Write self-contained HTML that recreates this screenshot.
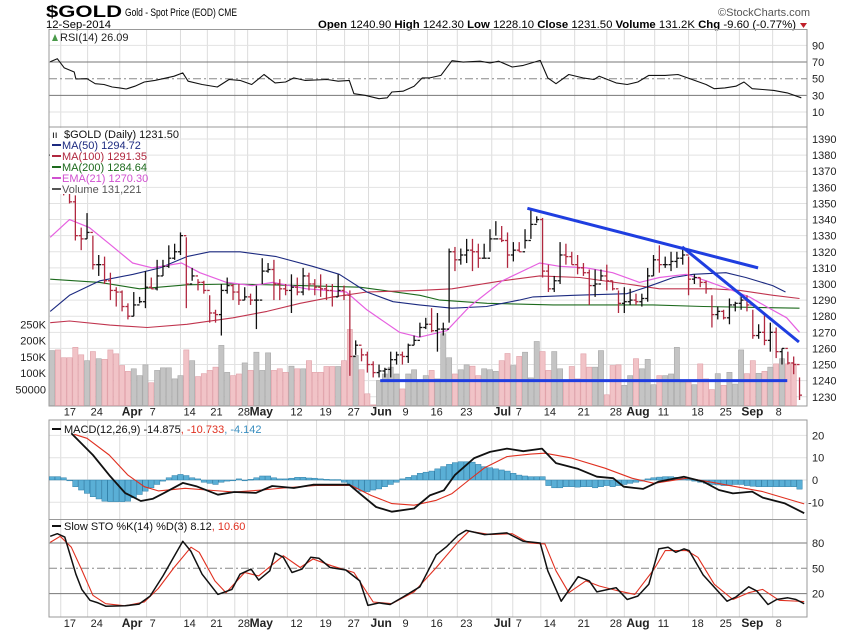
<!DOCTYPE html>
<html><head><meta charset="utf-8">
<style>
html,body{margin:0;padding:0;background:#fff;}
svg{display:block;font-family:"Liberation Sans",sans-serif;}
</style></head>
<body>
<svg id="chart" width="850" height="633" viewBox="0 0 850 633" xmlns="http://www.w3.org/2000/svg">
<g id="hdr">
<text x="46" y="17" font-size="17" font-weight="bold" textLength="76" lengthAdjust="spacingAndGlyphs">$GOLD</text>
<text x="125" y="16" font-size="11" textLength="112" lengthAdjust="spacingAndGlyphs">Gold - Spot Price (EOD) CME</text>
<text x="46" y="28" font-size="11" textLength="65" lengthAdjust="spacingAndGlyphs">12-Sep-2014</text>
<text x="810" y="16" font-size="11" fill="#555" text-anchor="end" textLength="92" lengthAdjust="spacingAndGlyphs">©StockCharts.com</text>
<text x="318" y="28" font-size="11" textLength="478" lengthAdjust="spacingAndGlyphs"><tspan font-weight="bold">Open</tspan> 1240.90 <tspan font-weight="bold">High</tspan> 1242.30 <tspan font-weight="bold">Low</tspan> 1228.10 <tspan font-weight="bold">Close</tspan> 1231.50 <tspan font-weight="bold">Volume</tspan> 131.2K <tspan font-weight="bold">Chg</tspan> -9.60 (-0.77%)</text>
<path d="M800 23 L807 23 L803.5 28 Z" fill="#c0202a"/>
</g>
<g id="grid"></g>
<g id="marks"></g>
<g id="overlay"></g>
</svg>
<script>
// ---------- data ----------
const highs=[1392,1385,1378,1356,1355,1335,1344,1330,1318,1317,1307,1298,1296,1288,1295,1292,1308,1304,1315,1315,1324,1325,1332,1329,1310,1303,1302,1293,1284,1300,1304,1300,1300,1298,1294,1299,1316,1313,1315,1303,1300,1306,1304,1310,1307,1303,1306,1300,1300,1306,1299,1296,1265,1260,1258,1252,1250,1248,1258,1258,1258,1263,1268,1276,1279,1285,1282,1276,1322,1323,1322,1328,1328,1325,1325,1334,1339,1336,1332,1326,1326,1334,1346,1342,1341,1312,1305,1326,1325,1320,1318,1313,1309,1309,1309,1312,1302,1296,1298,1297,1294,1294,1310,1318,1324,1317,1320,1320,1322,1317,1306,1304,1302,1293,1286,1284,1291,1289,1294,1293,1284,1275,1281,1276,1273,1260,1258,1255,1242];
const lows=[1376,1370,1355,1350,1327,1321,1328,1309,1305,1300,1290,1286,1283,1278,1280,1288,1285,1297,1296,1305,1310,1315,1318,1285,1302,1296,1294,1276,1276,1268,1294,1290,1287,1290,1287,1272,1300,1307,1290,1290,1293,1282,1293,1293,1296,1293,1292,1290,1286,1292,1290,1243,1256,1252,1245,1242,1242,1242,1242,1250,1250,1251,1262,1267,1272,1270,1258,1268,1276,1308,1312,1313,1308,1310,1316,1320,1330,1326,1310,1314,1320,1322,1328,1338,1304,1295,1295,1300,1312,1312,1306,1305,1287,1292,1302,1296,1296,1282,1282,1287,1287,1286,1289,1305,1307,1310,1308,1310,1312,1293,1300,1298,1294,1273,1278,1278,1275,1283,1284,1283,1266,1266,1262,1258,1254,1250,1250,1244,1228];
const closes=[1380,1372,1358,1351,1330,1328,1332,1312,1312,1302,1296,1295,1286,1280,1287,1289,1298,1297,1305,1311,1316,1320,1330,1300,1305,1301,1296,1282,1281,1296,1299,1295,1290,1292,1290,1290,1308,1309,1300,1297,1296,1298,1295,1305,1300,1298,1297,1296,1292,1296,1293,1255,1262,1256,1250,1245,1246,1247,1253,1256,1255,1262,1265,1273,1275,1271,1272,1272,1320,1315,1318,1321,1320,1316,1316,1328,1328,1327,1318,1321,1320,1327,1337,1340,1308,1297,1302,1318,1317,1312,1310,1307,1299,1300,1305,1302,1297,1288,1289,1290,1289,1291,1305,1315,1312,1312,1314,1316,1318,1303,1304,1301,1297,1281,1283,1279,1287,1288,1290,1287,1268,1270,1265,1270,1258,1260,1251,1250,1231];
const volumes=[169,171,147,147,179,156,138,166,144,142,171,159,123,105,113,92,125,70,108,116,116,82,92,171,138,89,98,108,118,185,102,92,97,131,108,164,108,162,108,113,102,121,113,113,138,102,102,120,120,120,138,234,154,110,36,2,77,97,118,97,51,97,110,79,92,108,82,221,147,97,110,125,121,92,113,110,105,138,160,123,151,164,85,197,166,108,166,113,77,120,82,159,118,118,169,33,123,125,62,92,144,113,142,64,92,92,97,179,72,72,64,128,82,49,98,62,102,66,171,98,138,99,105,118,128,144,128,128];
const tickLabels=["17","24","Apr","7","14","21","28","May","12","19","27","Jun","9","16","23","Jul","7","14","21","28","Aug","11","18","25","Sep","8"];
const tickBars=[1.5,6.1,11.6,16.2,22,26.6,31.3,33.5,40.3,45.3,50.1,54.2,59.5,64.3,69.4,75.3,78.9,83.7,89.5,95,98,103.2,109,113.8,117.7,123.4];
const priceTicks=[1390,1380,1370,1360,1350,1340,1330,1320,1310,1300,1290,1280,1270,1260,1250,1240,1230];
const volTicks=[250,200,150,100,50];
const volTickLabels=["250K","200K","150K","100K","50000"];
// moving averages (bar index, value)
const emaIdx=[-0.3,3,6.4,9.8,13.8,17.2,22.2,25.3,29.9,34.3,37.8,43.6,50.4,53.9,59.5,62.9,67.6,71.5,77.1,83.5,86.9,91.5,96,100.6,104,108.6,112,116.5,119.4,122.3,125.8,128];
const emaVal=[1329,1340,1335,1325,1313,1310,1313,1307,1301,1299,1301,1297,1295,1284,1270,1267,1271,1286,1302,1313,1311,1310,1307,1301,1304,1306,1302,1296,1292,1286,1279,1270];
const ma50Idx=[-0.3,3,8.2,13.9,18.5,23.1,27,32.2,38.4,44.6,49.2,53.9,58.4,62.9,68.5,74.4,80,82.4,89.3,98.4,101.8,106.4,109.8,115.4,118.8,123.4,125.6];
const ma50Val=[1283,1293,1302,1306,1310,1317,1320,1320,1317,1311,1306,1295,1289,1287,1285,1286,1290,1292,1293,1294,1298,1304,1306,1307,1304,1299,1295];
const ma100Idx=[-0.3,3,9.9,16.3,23.1,31,36.8,42.5,48.1,53.9,62.9,68.5,77.1,83.5,90.4,98.4,104,113.2,117.8,123.5,128];
const ma100Val=[1276,1277,1274.5,1273,1275,1279,1283,1288,1292,1295,1296,1297,1302,1305,1304,1300,1297,1297,1296,1293,1291];
const ma200Idx=[-0.3,8.2,15,23.1,31,42.5,52.7,63,66.4,74.5,85.8,102.9,111.5,128];
const ma200Val=[1303,1301,1297,1299.5,1300,1299,1298,1293,1290,1288,1287,1287,1286,1285];
// trendlines [startBar,startPrice,endBar,endPrice]
const trendStart=[[81.4,1347],[107.9,1323],[56.2,1240]];
const trendEnd=[[120.9,1310],[127.9,1264],[125.9,1240]];
// RSI
const rsiIdx=[-0.3,0.9,2.1,3.8,4.1,6,7.4,8.9,10.3,11.6,12.7,14.2,15.8,17.6,19,20.9,22.4,23.3,25.7,28.3,30.3,32.2,34.2,36.3,38.2,40,41.4,43.3,47.1,49,50.9,51.7,53.6,56,57.4,58.2,60.1,62,63.4,64.7,66.6,68.5,70.4,73.3,75,76.5,78.8,80.7,83.6,84.9,86.3,88.5,90.9,92.8,93.7,96.6,98.5,100.3,102.2,105,107.2,109.6,112,113.4,115.2,117.1,118.5,119.9,121.7,123.6,125.9,128.3];
const rsiVal=[70.4,74,63,58,49.6,50,44,43,40,39,37.6,41,46,48,50,53,57,47,43,40,49,48,43,55,45,46,51,48,49,47,48,32,30,26,27,34,35,41,51,51,54,71.6,70,71,69,71,64,66,72,51,44,55,51,49,53,45,43,46,54,54,55,49,43,38,39,41,46,38,37,36,33,27];
const rsiTicks=[90,70,50,30,10];
// MACD
const macdIdx=[3.3,7,9.8,12.5,15.2,17.3,19,22.4,24.7,28.4,31.2,34.9,37.7,41.4,44.7,50.9,52.7,55.5,58.2,62,64.7,67.1,69,72.3,75,77.9,80.7,83.9,86.3,90.1,93.3,96.1,97.9,101.2,103.9,108.2,111.5,114.2,116.6,119.9,121.7,125.5,128.8];
const macdVal=[21,11.2,2.2,-5.8,-9.4,-8.4,-6.1,-1.3,-2.8,-6.6,-5.4,-5.8,-2.7,-3.6,-2.1,-2.1,-6.1,-12.1,-14.2,-12.8,-6.9,-4.6,2.3,9.8,12.6,14.1,12.9,14.1,7.6,5,1.5,0.8,-3,-4,-0.7,1.5,-0.7,-4.5,-6,-5.2,-7.9,-10.5,-14.9];
const sigIdx=[3.8,6,9.8,13,15.8,18.2,22.8,26.5,31.2,36,39.6,45.2,51.2,54.6,58.2,62,65.8,68.5,71.4,74.1,77.9,82,84.4,89,94.7,99.3,103.1,108.7,112.3,117.1,121.7,128.8];
const sigVal=[20.5,18.7,11.2,2.2,-3,-4.9,-3.7,-4.5,-5.4,-4.5,-3.6,-2.4,-2.4,-6.9,-10.6,-11.3,-9.1,-6.1,0,5.5,10.5,11.6,12,9.8,5.3,0.8,-1.5,0.8,-0.7,-3,-5.2,-10.7];
const histVal=[1.5,1.5,1,0,-3,-4.5,-6,-7.5,-8.5,-9.5,-9.7,-9.7,-9.7,-9.5,-8,-6.5,-5,-3.5,-2,-0.5,1,2,2.5,2,1,0.5,-1,-1.5,-2,-1,-0.5,0,0.5,-0.3,0.3,1,1.8,1.8,1,0.5,0.5,0.8,1.2,1.2,0.9,0.8,0.5,0.3,0.2,0.2,-1,-2.5,-4,-5,-5.2,-4.5,-4,-3,-2,-1,0.5,1.2,2,3,3.5,4,5,6,7,7.8,8.2,8.2,8,7,6,5.5,5,4.5,4,3,2.2,1.8,1.5,1.5,1.5,-2.5,-3.5,-3.5,-3,-3,-3.2,-3,-3,-3.5,-3,-2.5,-3,-2.5,-2,-1.5,-1,-0.5,0.5,1,1.3,1.5,1.5,1.2,0.8,0.3,-0.5,-1,-1.5,-2,-2.2,-2.5,-2.5,-2,-2,-2.5,-2.8,-3,-3,-3,-3,-3,-3,-3,-4.1];
const macdTicks=[20,10,0,-10];
// Slow stochastics
const kIdx=[-0.3,0.9,2.2,4.1,5.1,6.5,7.9,9.2,12.5,14.9,16.8,19,22.4,23.8,25.7,28.4,30.8,32.2,34.1,35.4,37.3,38.2,39.6,41.1,42.8,44.3,45.7,47.6,50.3,52.7,54.1,56,57.9,60.1,63,65.8,67.6,69.5,70.9,74.1,77.9,80.7,83.6,84.9,87.2,90.1,92,93.3,96.6,98.5,100.3,102.2,103.9,105.5,106.8,108.2,109.1,111.5,115.6,117.1,119.3,120.7,122.6,124.1,126,127.4,128.8];
const kVal=[88,91,87,43,25,12,9,5,5.5,7.5,17,41,82,70,43,19,25,43,49,36,47,68,63,45,49,63,62,51,48,35,6,9,7,16,28,66,76,89,95,90,92,82,80,47,11,40,35,22,27,13,17,31,73,75,69,73,71,42,11,16,28,23,7,13,15,13,8];
const dIdx=[-0.3,1.4,3.3,5.1,7,9.2,12.5,15.8,18.2,20.9,23.8,25.2,27.9,29.8,33,35.4,38.2,39.6,42.5,44.7,47.9,51.7,55,58.2,62,65.8,69.5,71.4,75,78.8,81.7,84.4,86.3,88.5,91.4,93.7,97.1,99.8,103.1,105,108.7,110.6,113.4,116.6,119.3,121.7,124.5,128.8];
const dVal=[80.7,88,75,48,18,8,5.5,10,26,51,75,69,35,21,45,41,57,65,51,61,53,45,10,8,22,51,81,94,90,91,80,79,47,21,35,29,23,19,49,71,71,63,31,13,21,25,12,10.6];
const stoTicks=[80,50,20];

// ---------- layout ----------
const L=49,R=807;
const X0=52,DX=5.84;
const bx=i=>X0+DX*i;
const py=p=>139+(1390-p)*1.611;
const vy=v=>405.5-v*0.325;
const ry=v=>78.7-(v-50)*0.8325;
const my=v=>480-v*2.23;
const sy=v=>568.3-(v-50)*0.843;
const NS="http://www.w3.org/2000/svg";
const G=document.getElementById('grid'),M=document.getElementById('marks'),O=document.getElementById('overlay');
function mk(tag,attrs,parent){const e=document.createElementNS(NS,tag);for(const k in attrs)e.setAttribute(k,attrs[k]);parent.appendChild(e);return e;}
function txt(s,x,y,attrs,parent){const e=mk('text',Object.assign({x:x,y:y,'font-size':11},attrs),parent);e.textContent=s;return e;}

const panels=[[29.5,127],[127,406],[420,519.5],[519.5,617]];
tickBars.forEach((b,k)=>{
  const x=bx(b);
  panels.forEach(p=>{
    const ln=mk('line',{x1:x,x2:x,y1:p[0],y2:p[1],stroke:'#dcdcdc','stroke-width':1},G);
    
    
  });
  const bold=/[A-Za-z]/.test(tickLabels[k]);
  [415.5,627].forEach(yy=>{
    const t=txt(tickLabels[k],x+(bold?2:3),yy,{'font-size':bold?12:11,'font-weight':bold?'bold':'normal',fill:'#222'},G);
    
    
  });
});
priceTicks.forEach(p=>{
  const ln=mk('line',{x1:L,x2:R,y1:py(p),y2:py(p),stroke:'#e2e2e2'},G);
  
  
  const t=txt(String(p),812,py(p)+4,{fill:'#222'},G);
  
  
});
volTicks.forEach((v,k)=>{
  const t=txt(volTickLabels[k],46,vy(v)+4,{'text-anchor':'end',fill:'#222'},G);
  
  
});
rsiTicks.forEach(v=>{
  const main=(v===70||v===30);
  const ln=mk('line',{x1:L,x2:R,y1:ry(v),y2:ry(v),stroke:main?'#777':(v===50?'#888':'#e2e2e2'),'stroke-width':1,'stroke-dasharray':v===50?'8,3,2,3':'none'},G);
  
  
  const t=txt(String(v),812,ry(v)+4,{fill:'#222'},G);
  
  
});
macdTicks.forEach(v=>{
  const ln=mk('line',{x1:L,x2:R,y1:my(v),y2:my(v),stroke:'#e2e2e2'},G);
  
  
  const t=txt(String(v),v<0?808:812,my(v)+4,{fill:'#222'},G);
  
  
});
stoTicks.forEach(v=>{
  const ln=mk('line',{x1:L,x2:R,y1:sy(v),y2:sy(v),stroke:v===50?'#888':'#777','stroke-dasharray':v===50?'8,3,2,3':'none'},G);
  
  
  const t=txt(String(v),812,sy(v)+4,{fill:'#222'},G);
  
  
});
panels.forEach(p=>{
  const r=mk('rect',{x:L,y:p[0],width:R-L,height:p[1]-p[0],fill:'none',stroke:'#999'},G);
  
  
});

volumes.forEach((v,i)=>{
  const up=i===0?true:closes[i]>=closes[i-1];
  const r=mk('rect',{x:bx(i)-2.6,y:vy(v),width:5.2,height:405.5-vy(v),fill:up?'#c4c4c4':'#f1c3c7',stroke:up?'#a8a8a8':'#e0a0a8','stroke-width':0.6},M);
  
  
});
function poly(idx,vals,yf,color,w,name){
  const pts=idx.map((b,k)=>bx(b).toFixed(1)+','+yf(vals[k]).toFixed(1)).join(' ');
  const pl=mk('polyline',{points:pts,fill:'none',stroke:color,'stroke-width':w,'stroke-linejoin':'round'},M);
  
  
}
poly(ma200Idx,ma200Val,py,'#1d6a1d',1.1,'ma200-line');
poly(ma100Idx,ma100Val,py,'#c0344e',1.1,'ma100-line');
poly(ma50Idx,ma50Val,py,'#1c2a80',1.1,'ma50-line');
poly(emaIdx,emaVal,py,'#e660e0',1.2,'ema21-line');
closes.forEach((c,i)=>{
  const o=i===0?c:closes[i-1];
  const col=(i>0&&c<o)?'#b0283f':'#111';
  const x=bx(i);
  const g=mk('g',{stroke:col,'stroke-width':1.3},M);
  
  
  mk('line',{x1:x,x2:x,y1:py(highs[i]),y2:py(lows[i])},g);
  mk('line',{x1:x-2.5,x2:x,y1:py(o),y2:py(o)},g);
  mk('line',{x1:x,x2:x+2.5,y1:py(c),y2:py(c)},g);
});
trendStart.forEach((s,k)=>{
  const e=trendEnd[k];
  const ln=mk('line',{x1:bx(s[0]),y1:py(s[1]),x2:bx(e[0]),y2:py(e[1]),stroke:'#1f3ee0','stroke-width':3},M);
  
  
});
poly(rsiIdx,rsiVal,ry,'#111',1.1,'rsi-line');
histVal.forEach((h,i)=>{
  const y0=my(0),y1=my(h);
  const r=mk('rect',{x:bx(i)-2.7,y:Math.min(y0,y1),width:5.4,height:Math.max(0.8,Math.abs(y1-y0)),fill:'#5aafd6',stroke:'#2f7fa8','stroke-width':0.5},M);
  
  
});
poly(sigIdx,sigVal,my,'#e03020',1.1,'macd-signal-line');
poly(macdIdx,macdVal,my,'#111',1.8,'macd-line');
poly(dIdx,dVal,sy,'#e03020',1.1,'sto-d-line');
poly(kIdx,kVal,sy,'#111',1.5,'sto-k-line');

function legend(y,parts,x,name){
  const t=mk('text',{x:x,y:y,'font-size':11},O);
  
  
  parts.forEach(p=>{const s=mk('tspan',{fill:p[1]},t);s.textContent=p[0];});
}
const lb=mk('rect',{x:50,y:128,width:92,height:66,fill:'#fff'},O);


legend(41,[['RSI(14) 26.09','#222']],60,'rsi-legend');
const tri=mk('path',{d:'M52 41 L55 34 L58 41 Z',fill:'#4a9a4a'},O);


legend(138,[['$GOLD (Daily) 1231.50','#111']],64,'price-legend');
const ic=mk('text',{x:52,y:138,'font-size':10},O);ic.textContent='ıı';


const legs=[['MA(50) 1294.72','#1c2a80'],['MA(100) 1291.35','#b0283f'],['MA(200) 1284.64','#1d6a1d'],['EMA(21) 1270.30','#d050d0'],['Volume 131,221','#555']];
legs.forEach((l,k)=>{
  const y=149+k*11;
  const sw=mk('line',{x1:52,x2:61,y1:y-4,y2:y-4,stroke:l[1],'stroke-width':2},O);
  
  
  legend(y,[[l[0],l[1]]],62,'legend-entry');
});
legend(433,[['MACD(12,26,9) -14.875','#111'],[', -10.733','#e03020'],[', -4.142','#3b8fc0']],64,'macd-legend');
const ms=mk('line',{x1:52,x2:61,y1:429,y2:429,stroke:'#111','stroke-width':2},O);


legend(530,[['Slow STO %K(14) %D(3) 8.12','#111'],[', 10.60','#e03020']],64,'sto-legend');
const ss=mk('line',{x1:52,x2:61,y1:526,y2:526,stroke:'#111','stroke-width':2},O);


</script>
</body></html>
